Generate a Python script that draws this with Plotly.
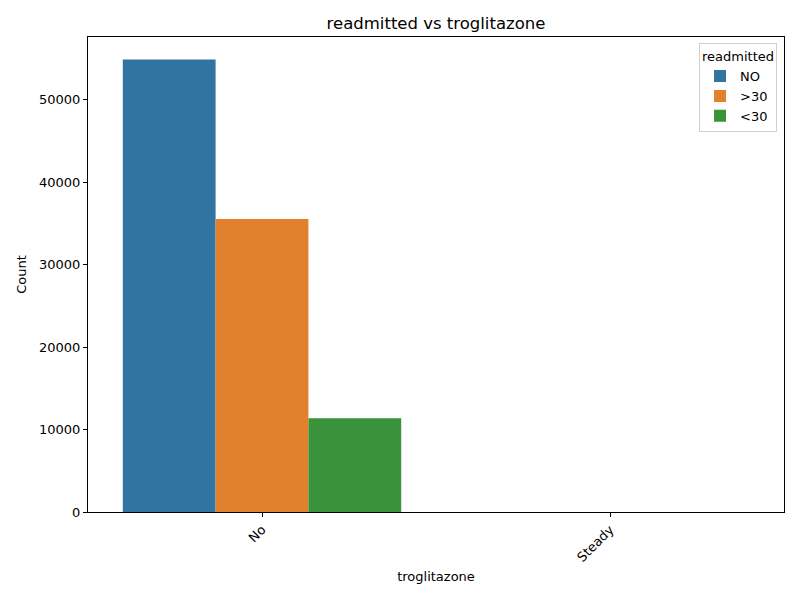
import plotly.graph_objects as go

categories = ["No", "Steady"]
readmitted_levels = ["NO", ">30", "<30"]
counts_no = [54864, 0]
counts_gt30 = [35545, 0]
counts_lt30 = [11357, 0]
series = [counts_no, counts_gt30, counts_lt30]
colors = ["#3274a1", "#e1812c", "#3a923a"]

FONT = "DejaVu Sans"

fig = go.Figure()
for level, vals, col in zip(readmitted_levels, series, colors):
    fig.add_trace(
        go.Bar(
            x=[0, 1],
            y=vals,
            name=level,
            marker=dict(color=col, line=dict(width=0)),
        )
    )

axis_common = dict(
    showline=True,
    linecolor="black",
    linewidth=1,
    mirror=True,
    ticks="outside",
    ticklen=4,
    tickcolor="black",
    showgrid=False,
    zeroline=False,
    tickfont=dict(family=FONT, size=13, color="black"),
)

# page body adds 8px offset, so the figure is 8px smaller and shifted margins
fig.update_layout(
    width=792,
    height=592,
    barmode="group",
    bargap=0.2,
    bargroupgap=0,
    plot_bgcolor="white",
    paper_bgcolor="white",
    font=dict(family=FONT, size=13, color="black"),
    title=dict(
        text="readmitted vs troglitazone",
        x=428 / 792,
        xanchor="center",
        y=1 - 15 / 592,
        yanchor="middle",
        font=dict(family=FONT, size=16.5, color="black"),
    ),
    margin=dict(l=80, r=16, t=29, b=88),
    xaxis=dict(
        axis_common,
        range=[-0.5, 1.5],
        tickvals=[0, 1],
        ticktext=categories,
        tickangle=-45,
        title=dict(text="troglitazone", font=dict(family=FONT, size=13), standoff=8),
    ),
    yaxis=dict(
        axis_common,
        range=[0, 57606],
        tickvals=[0, 10000, 20000, 30000, 40000, 50000],
        tickformat="d",
        title=dict(text="Count", font=dict(family=FONT, size=13), standoff=9),
    ),
    legend=dict(
        title=dict(text="readmitted", font=dict(family=FONT, size=13)),
        x=0.99,
        xanchor="right",
        y=0.987,
        yanchor="top",
        bordercolor="#d0d0d0",
        borderwidth=1,
        bgcolor="rgba(255,255,255,0.8)",
        font=dict(family=FONT, size=13),
    ),
)

fig.write_html("out.html")
